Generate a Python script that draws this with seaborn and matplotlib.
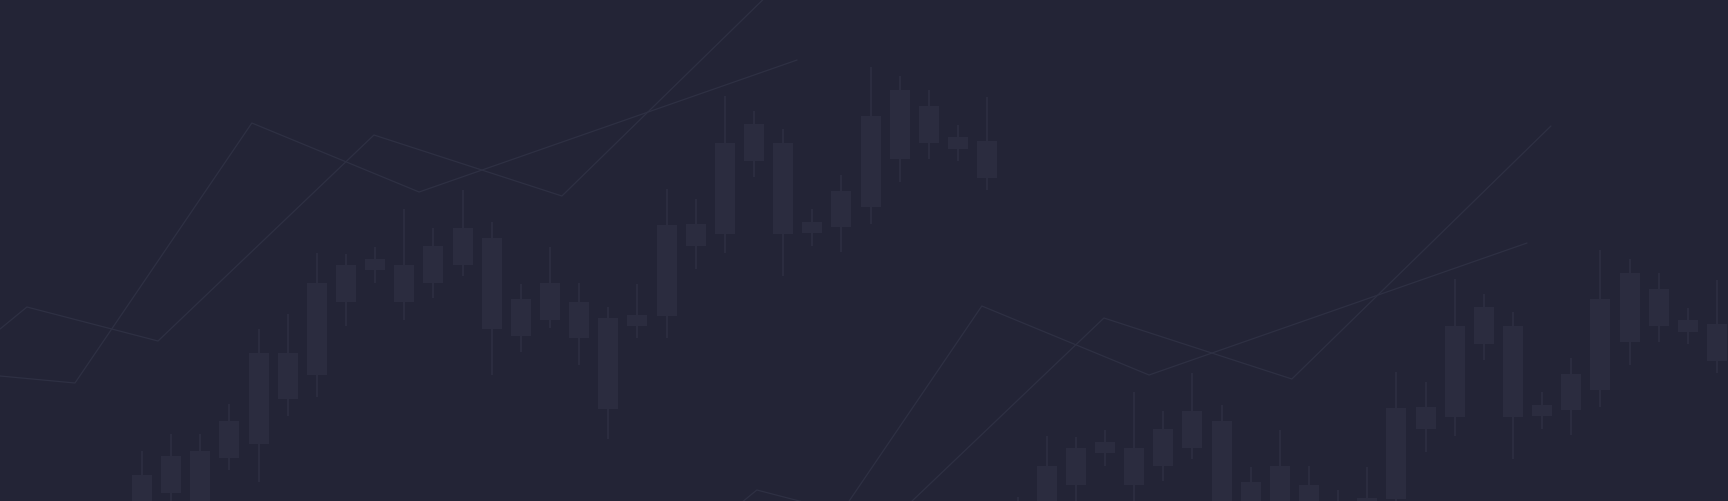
import numpy as np
import pandas as pd
import matplotlib
matplotlib.use("Agg")
import matplotlib.pyplot as plt
import seaborn as sns

# --- Candle data (one tile of the pattern), price units ---
candle_idx = np.arange(1, 31)
high = [50, 67, 67, 97, 172, 187, 248, 247, 254, 292,
        273, 311, 279, 217, 254, 218, 194, 217, 312, 302,
        405, 390, 372, 292, 326, 434, 425, 411, 376, 404]
low = [-28, -13, -53, 31, 19, 85, 104, 175, 218, 181,
       203, 225, 126, 149, 173, 136, 62, 163, 163, 232,
       248, 324, 225, 255, 249, 277, 319, 342, 340, 311]
open_ = [-10, 8, -38, 43, 57, 148, 126, 236, 231, 236,
         218, 236, 263, 202, 181, 199, 183, 175, 185, 277,
         267, 377, 358, 268, 274, 294, 342, 395, 352, 360]
close = [26, 45, 50, 80, 148, 102, 218, 199, 242, 199,
         255, 273, 172, 165, 218, 163, 92, 186, 276, 255,
         358, 340, 267, 279, 310, 385, 411, 358, 364, 323]

# --- Two decorative trend lines (same units) ---
line_a_x = [-3.87, -1.30, 4.77, 10.51, 23.48]
line_a_y = [125, 118, 378, 309, 441]
line_b_x = [-3.87, -2.95, 1.55, 8.96, 15.41, 24.30]
line_b_y = [172, 194, 160, 366, 305, 558]

# the pattern is stamped twice: once in place, once shifted right/down
tile_shift_x = [0.0, 25.05]
tile_shift_y = [0, -183]

bg = "#232436"
candle_col = "#2b2c3f"
line_col = "#2e3043"

sns.set_theme(style="dark", rc={"axes.facecolor": bg, "figure.facecolor": bg})

fig = plt.figure(figsize=(17.28, 5.02), dpi=100)
ax = fig.add_axes([0, 0, 1, 1])
ax.set_facecolor(bg)

step_px = 29.14
ax.set_xlim(1 - 142 / step_px, 1 + (1728 - 142) / step_px)
ax.set_ylim(0, 502)
ax.axis("off")

for sx, sy in zip(tile_shift_x, tile_shift_y):
    lines = pd.DataFrame({"x": np.array(line_a_x) + sx, "y": np.array(line_a_y) + sy})
    sns.lineplot(data=lines, x="x", y="y", sort=False, color=line_col,
                 linewidth=0.9, ax=ax, zorder=1)
    lines = pd.DataFrame({"x": np.array(line_b_x) + sx, "y": np.array(line_b_y) + sy})
    sns.lineplot(data=lines, x="x", y="y", sort=False, color=line_col,
                 linewidth=0.9, ax=ax, zorder=1)

    xs = candle_idx + sx
    ax.vlines(xs, np.array(low) + sy, np.array(high) + sy,
              color=candle_col, linewidth=1.5, zorder=2)
    lo = np.minimum(open_, close) + sy
    hi = np.maximum(open_, close) + sy
    ax.bar(xs, hi - lo, bottom=lo, width=20 / step_px,
           color=candle_col, linewidth=0, zorder=3)

fig.savefig("out.png", dpi=100, facecolor=bg)
